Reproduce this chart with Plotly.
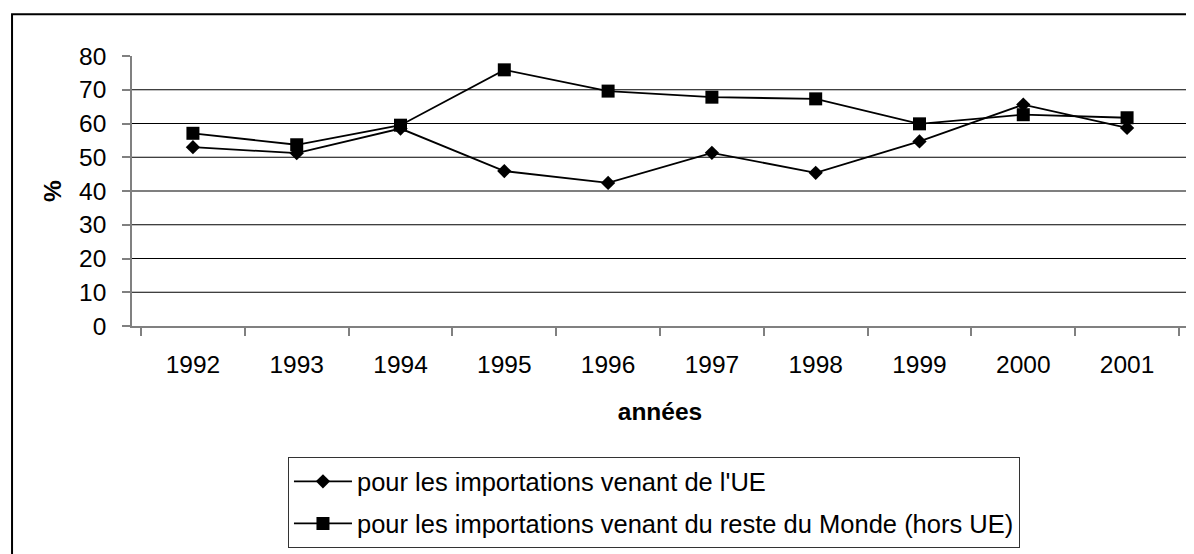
import plotly.graph_objects as go

years = ["1992", "1993", "1994", "1995", "1996", "1997", "1998", "1999", "2000", "2001"]
ue_values = [53.0, 51.2, 58.5, 45.9, 42.4, 51.3, 45.4, 54.7, 65.6, 58.7]
monde_values = [57.1, 53.7, 59.5, 75.9, 69.6, 67.8, 67.3, 59.9, 62.6, 61.7]
name_ue = "pour les importations venant de l'UE"
name_monde = "pour les importations venant du reste du Monde (hors UE)"
y_ticks = [0, 10, 20, 30, 40, 50, 60, 70, 80]
grid_vals = [10, 20, 30, 40, 50, 60, 70]

FONT = "Liberation Sans, Arial, sans-serif"

fig = go.Figure()
fig.add_trace(go.Scatter(
    x=years, y=ue_values, name=name_ue, mode="lines+markers",
    line=dict(color="black", width=1.8),
    marker=dict(symbol="diamond", size=11, color="black"),
    legendgroup="a",
))
fig.add_trace(go.Scatter(
    x=years, y=monde_values, name=name_monde, mode="lines+markers",
    line=dict(color="black", width=1.8),
    marker=dict(symbol="square", size=13, color="black"),
    legendgroup="b",
))

shapes = []
for g in grid_vals:
    shapes.append(dict(type="line", xref="paper", yref="y", x0=0, x1=1, y0=g, y1=g,
                       line=dict(color="black", width=1.2), layer="below"))
# outer chart frame (left and top visible)
shapes.append(dict(type="rect", xref="paper", yref="paper",
                   x0=-0.1136, x1=1.1, y0=-0.9, y1=1.155,
                   line=dict(color="black", width=2), layer="below"))

fig.update_layout(
    width=1186, height=546,
    margin=dict(l=124, r=6, t=48, b=223),
    paper_bgcolor="white", plot_bgcolor="white",
    font=dict(family=FONT, size=24.5, color="black"),
    showlegend=True,
    legend=dict(
        x=0.1477, y=-0.486, xanchor="left", yanchor="top",
        bordercolor="#333333", borderwidth=1, bgcolor="white",
        font=dict(family=FONT, size=25.5, color="black"),
        tracegroupgap=6, itemwidth=58,
    ),
    shapes=shapes,
    xaxis=dict(
        type="category", tickson="boundaries", ticks="outside", ticklen=8,
        tickcolor="#808080", tickwidth=1.5, showline=True, linecolor="#808080",
        linewidth=1.5, showgrid=False, zeroline=False,
        tickfont=dict(family=FONT, size=24.5, color="black"),
        ticklabelstandoff=16,
        title=dict(text="<b>années</b>", standoff=26,
                   font=dict(family=FONT, size=24.5, color="black")),
        automargin=False,
    ),
    yaxis=dict(
        range=[0, 80], tickvals=y_ticks, ticks="outside", ticklen=8,
        tickcolor="#808080", tickwidth=1.5, showline=True, linecolor="#808080",
        linewidth=1.5, showgrid=False, zeroline=False,
        tickfont=dict(family=FONT, size=24.5, color="black"),
        ticklabelstandoff=11,
        title=dict(text="<b>%</b>", standoff=11,
                   font=dict(family=FONT, size=24.5, color="black")),
        automargin=False,
    ),
)

fig.write_html("out.html")
